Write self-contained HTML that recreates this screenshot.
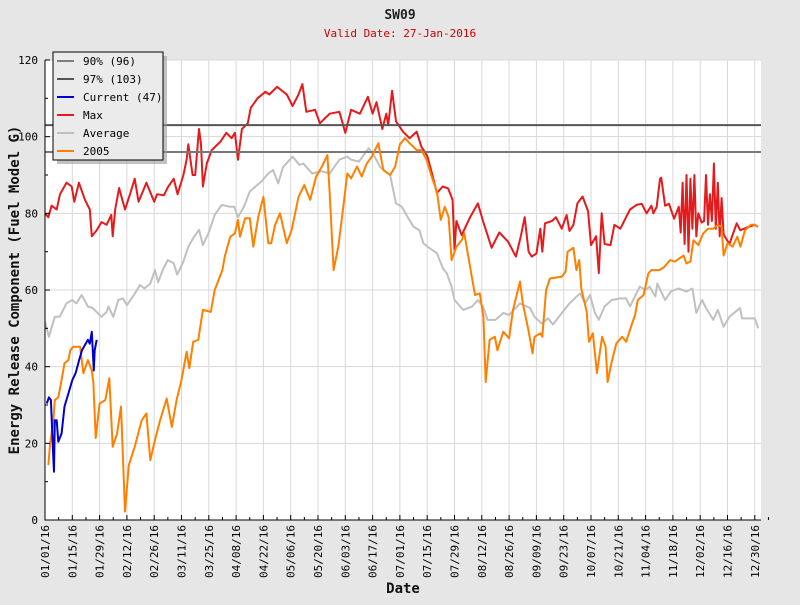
<!DOCTYPE html>
<html><head><meta charset="utf-8"><style>
body{margin:0;background:#e6e6e6;}
svg text{font-family:"DejaVu Sans Mono","Liberation Mono",monospace;}
</style></head><body>
<svg id="c" width="800" height="600" xmlns="http://www.w3.org/2000/svg">
<rect width="800" height="600" fill="#e6e6e6"/>
<text x="400" y="19" text-anchor="middle" font-size="13" font-weight="bold" fill="#222">SW09</text>
<text x="400" y="37" text-anchor="middle" font-size="11" fill="#cc0000">Valid Date: 27-Jan-2016</text>
<rect x="45" y="60" width="716" height="460" fill="#fff"/>
<g id="grid"></g><g id="series"></g><g id="axes"></g>
<text transform="translate(19,290) rotate(-90)" text-anchor="middle" font-size="14" font-weight="bold" fill="#111">Energy Release Component (Fuel Model G)</text>
<text x="403" y="593" text-anchor="middle" font-size="14" font-weight="bold" fill="#111">Date</text>
<g id="legend"></g>
</svg>
<script>
const xTickLabels=["01/01/16","01/15/16","01/29/16","02/12/16","02/26/16","03/11/16","03/25/16","04/08/16","04/22/16","05/06/16","05/20/16","06/03/16","06/17/16","07/01/16","07/15/16","07/29/16","08/12/16","08/26/16","09/09/16","09/23/16","10/07/16","10/21/16","11/04/16","11/18/16","12/02/16","12/16/16","12/30/16"];
const yTicks=[0,20,40,60,80,100,120];
const pct90=[96];
const pct97=[103];
const maxDays=[0,1.7,3.4,6,7.7,11,13.7,15,17.4,20.5,23,24,26.5,29,31.6,34,34.7,36,38,41,43.6,46,48,52,56,57.5,61,63,66,68,71,72.6,73.5,75.7,77,79,80,81,83,85.5,90,93,95.7,97.4,99,101,104,105.5,109,113,115,119,124,127,130,132,134,138.5,141,146,151,154,157,161.5,165.6,168,170,173,175,176,178,180,183.6,187,190.6,193,196,198,201,204,206.7,209,210,211,213.7,218,222,224.6,229,233,237.5,241.5,244,246,248,249.6,252,254,255,256.4,260,262,265,267.5,269,271,273,275.7,278.5,280,282.6,284,285.5,287,290,292,295,300,303.4,306,308.5,311,312,313.7,315.4,316,318,320,322.6,325,326,327,328,329,330,331,332,333,334,335,336.7,338,339,340,341,342,343,344,345,346,347,348,351,354.7,356.5,360,364,365.6];
const maxVals=[80,79,82,81,85,88,87,83,88,83.5,81,74,75.6,77.7,77,79.6,74,81,86.6,81,85,89,83,88,83,85,84.7,86.8,89,85,90,94,98,90,90,102,98,87,93,96.5,98.7,101,99.6,101,94,102,103.5,107.5,110,111.7,111,113,111,108,111,113.7,106.5,107,103.5,106,106.5,101,107,106,110.4,106,109,102,106,103,112,104,101.3,99.6,101.3,97.4,95,91.3,85.3,87,86.5,83.5,70.4,78,74.3,79,82.6,78,71,75,72.6,68.7,74,79,70,68.7,69.5,76,70,77.4,78,79,76,79.6,75.4,77,82.6,84.4,80.5,71.7,74,64.4,80,72,71.7,77,76,81,82.2,82.5,80,82,80,81.7,89,89.3,82,82.5,78.6,81.7,75,88,72,90,70,89,76,90,74,80,77.6,78,90,77,85,78,93,76,88,74,84,74.5,72,77.4,75.6,76.3,77,76.5];
const avgDays=[0,2,5,7.5,11,14,16,18.8,22,24.4,29,31.6,32.5,35,37.6,40,42,46,48.7,51,54,56.4,58,60.7,63,66,67.8,71,73.5,76,79,81,84,87,90.6,95,97,99,102,105,108,111,114.5,117,119.6,122,127,130.5,132.5,137,142,146,151,155,157,161,166,169,172,177,180,183,186,189,192,194,197,201,204,206,208.5,210,214.5,219,222,224.6,227,231,235,238,243.6,248.7,251,254.7,258,260.5,265,269,274.4,277,279.5,282,284,287,290.6,295,298,300,305,308,310,313,314,318,321,324.8,329,332,334,337,339,342.7,345,348,351,356.4,357.5,362,364,365.8];
const avgVals=[51.7,47.8,53,53,56.5,57.4,56.5,58.7,55.7,55.3,53,54.3,55.7,53,57.4,57.8,56,59,61.3,60.4,61.7,65.2,62,65.6,67.8,67,64,67.4,71.3,73.5,75.7,71.7,75,79.6,82.2,81.7,81.7,79,81.7,85.7,87,88.3,90.4,91.3,87.8,92,94.8,92.6,93,90.4,91,90.4,94,94.8,94,93.5,97,94.8,92,90,82.6,81.7,79,76.5,75.6,72.2,71,69.6,65.7,64.4,60.9,57.4,54.8,55.7,57.4,55.7,52.2,52.2,54,53.5,56.5,55.3,53,51.3,52.6,51,54,56.5,59.1,56.5,58.7,54,52.2,55.7,57.4,57.8,57.8,55.7,60.9,60,60.9,58.3,61.7,57.4,59.6,60.4,59.6,60.4,54,57.4,55.3,52.2,54.8,50.4,53,55.3,52.6,52.6,52.6,50];
const y05Days=[1.7,2.6,4.3,5,6.8,8.5,10,12,13,14.5,18,19.7,22,24,24.8,26,28,31,33,34.7,37,39,41,43,46,49.6,52,54,56.4,59,62.4,65,67.5,70,72.6,74,76,78.6,81,85,87,91,92.3,95,97.4,99,100,102.6,105,106.8,109.4,112,114.5,116,118,120.5,124,126.5,130,133,136,139,142,144.8,146,148,150.4,153,155,157,160,162.4,165,167.6,171,173.5,177,179.6,182,184.6,187,190.6,193,195.7,198,201,203,205,207,208.5,211,213.7,215,218,220.5,223,224.8,226,228,230.7,232,235,238,240,243.6,245,247.9,250,251,254,255,257,259,265,267,268,271,272.5,274,275,277.8,279,281,283,285.7,287.5,288.5,290.6,293,296,298,300.8,302.6,304,307,309.4,311,315,317.6,320.5,323,325.5,327.5,329,331,332.5,335,337.6,340,342.7,345,347,348,350,352.6,355,356.6,359,362,364,365.7];
const y05Vals=[14.3,19.8,26,31.3,32,36.5,40.9,41.7,44.3,45.2,45.2,38.3,41.7,39,35.7,21.4,30.4,31.3,37,19.1,22.6,29.6,2.2,14.3,19.1,26,27.8,15.6,20.9,26,31.7,24.3,31.3,36.5,43.9,39.6,46.5,47,54.8,54.3,60,65.2,69,73.9,74.8,78.3,73.9,78.7,78.7,71.3,79.1,84.3,72.2,72.2,77,80,72.2,75.7,84.3,87.4,83.5,89.6,92.2,95.2,85.2,65.2,71.3,81.7,90.4,89.1,92.2,89.6,93,94.8,98.3,91.3,90,92.2,98,99.6,98.3,96.5,96.5,94,90,85.7,78.3,81.7,79,67.8,71.3,73,74.8,66,58.7,59.1,53,36,47,47.8,44.3,49.1,47.4,54.8,62.2,56.5,49.6,43.5,47.8,48.7,47.8,60,63,63.5,64.8,70,71,65.2,67.8,60.4,54.3,46.5,48.7,38.3,47.8,45.2,36,41.3,46.1,47.8,46.5,50.9,53.5,57.4,58.7,64.3,65.2,65.2,66,67.8,67.4,68.3,69,66.9,67.4,73,71.7,74.8,76,76,77,76.5,69,72.2,71.3,73.9,71.3,75.6,77,77,76.5];
const curDays=[0.9,2,3,4.3,4.6,5,6,6.8,8.5,10,12,14,15.7,17.5,19,22,23,24,25,25.5,26.5];
const curVals=[30.4,32,31.3,15.6,12.6,26,26,20.4,22.6,29.6,33,36.5,38.3,41.7,44.3,47,46,49.1,39,44.3,47];

const L=45,R=761,T=60,B=520;
const xs=d=>L+d*1.95;
const ys=v=>B-v*(B-T)/120;
const NS="http://www.w3.org/2000/svg";
function mk(tag,parent){const e=document.createElementNS(NS,tag);parent.appendChild(e);return e;}
const grid=document.getElementById('grid'),axes=document.getElementById('axes'),ser=document.getElementById('series');
yTicks.forEach(v=>{if(v===0)return;const l=mk('line',grid);
l.setAttribute('x1',L);l.setAttribute('x2',R);l.setAttribute('y1',ys(v));l.setAttribute('y2',ys(v));l.setAttribute('stroke','#d8d8d8');});
xTickLabels.forEach((t,i)=>{const x=xs(i*14);if(i>0){const l=mk('line',grid);
l.setAttribute('x1',x);l.setAttribute('x2',x);l.setAttribute('y1',T);l.setAttribute('y2',B);l.setAttribute('stroke','#d8d8d8');}
const tk=mk('line',axes);tk.setAttribute('x1',x);tk.setAttribute('x2',x);tk.setAttribute('y1',B-5);tk.setAttribute('y2',B);tk.setAttribute('stroke','#000');
const mt=mk('line',axes);const xm=xs(i*14+7);mt.setAttribute('x1',xm);mt.setAttribute('x2',xm);mt.setAttribute('y1',B-3);mt.setAttribute('y2',B);mt.setAttribute('stroke','#000');
const tx=mk('text',axes);tx.setAttribute('transform','translate('+(x+4)+','+(B+5)+') rotate(-90)');tx.setAttribute('text-anchor','end');tx.setAttribute('font-size','11');tx.textContent=t;});
yTicks.forEach(v=>{const tk=mk('line',axes);tk.setAttribute('x1',L);tk.setAttribute('x2',L+5);tk.setAttribute('y1',ys(v));tk.setAttribute('y2',ys(v));tk.setAttribute('stroke','#000');
if(v<120){const m=mk('line',axes);m.setAttribute('x1',L);m.setAttribute('x2',L+3);m.setAttribute('y1',ys(v+10));m.setAttribute('y2',ys(v+10));m.setAttribute('stroke','#000');}
const tx=mk('text',axes);tx.setAttribute('x',L-7);tx.setAttribute('y',ys(v)+4);tx.setAttribute('text-anchor','end');tx.setAttribute('font-size','11');tx.textContent=v;});
const ax=mk('path',axes);ax.setAttribute('d','M'+L+','+T+'V'+B+'H'+R);ax.setAttribute('stroke','#000');ax.setAttribute('fill','none');
function hline(v,col,name){const l=mk('line',ser);l.setAttribute('x1',L);l.setAttribute('x2',R);l.setAttribute('y1',ys(v));l.setAttribute('y2',ys(v));l.setAttribute('stroke',col);l.setAttribute('stroke-width','2');}
function series(days,vals,col,name){const p=mk('polyline',ser);
p.setAttribute('points',days.map((d,i)=>xs(d).toFixed(1)+','+ys(vals[i]).toFixed(1)).join(' '));p.setAttribute('fill','none');p.setAttribute('stroke',col);p.setAttribute('stroke-width','2');p.setAttribute('stroke-linejoin','round');}
series(avgDays,avgVals,'#c0c0c0','average-line');
series(maxDays,maxVals,'#e41a1c','max-line');
hline(pct90[0],'#777','p90-line');
hline(pct97[0],'#555','p97-line');
series(y05Days,y05Vals,'#ff8000','year-2005-line');
series(curDays,curVals,'#0000cc','current-line');
const lg=document.getElementById('legend');
const sh=mk('rect',lg);sh.setAttribute('x',57);sh.setAttribute('y',56);sh.setAttribute('width',110);sh.setAttribute('height',108);sh.setAttribute('fill','#999');sh.setAttribute('opacity','0.6');
const bx=mk('rect',lg);bx.setAttribute('x',53);bx.setAttribute('y',52);bx.setAttribute('width',110);bx.setAttribute('height',108);bx.setAttribute('fill','#ebebeb');bx.setAttribute('stroke','#000');
const items=[["90% (96)","#808080"],["97% (103)","#555"],["Current (47)","#0000cc"],["Max","#e41a1c"],["Average","#c0c0c0"],["2005","#ff8000"]];
items.forEach((it,i)=>{const y=61+i*18;const l=mk('line',lg);l.setAttribute('x1',57);l.setAttribute('x2',74);l.setAttribute('y1',y);l.setAttribute('y2',y);l.setAttribute('stroke',it[1]);l.setAttribute('stroke-width','2');
const t=mk('text',lg);t.setAttribute('x',83);t.setAttribute('y',y+4);t.setAttribute('font-size','11');t.textContent=it[0];});
</script>
</body></html>
